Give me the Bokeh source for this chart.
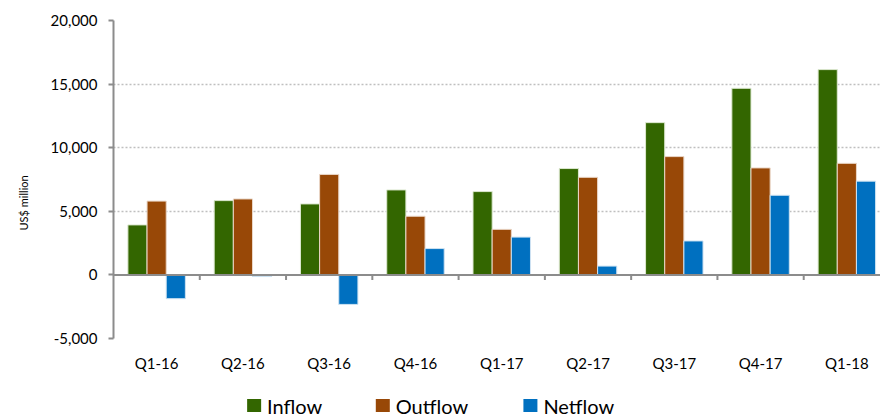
from bokeh.plotting import figure
from bokeh.models import (ColumnDataSource, FixedTicker, NumeralTickFormatter, Span,
                          Range1d, Title)
from bokeh.core.properties import value
from bokeh.layouts import column
from bokeh.embed import file_html
from bokeh.resources import INLINE

categories = ["Q1-16", "Q2-16", "Q3-16", "Q4-16", "Q1-17", "Q2-17", "Q3-17", "Q4-17", "Q1-18"]
inflow = [3930, 5840, 5580, 6680, 6550, 8360, 11970, 14670, 16140]
outflow = [5800, 5970, 7900, 4610, 3580, 7670, 9300, 8410, 8770]
netflow = [-1870, -130, -2320, 2070, 2970, 690, 2670, 6260, 7370]
y_ticks = [-5000, 0, 5000, 10000, 15000, 20000]
y_title = "US$ million"
series = ["Inflow", "Outflow", "Netflow"]

colors = {"Inflow": "#336600", "Outflow": "#984807", "Netflow": "#0070C0"}
FONT = "Lato"

x = list(range(len(categories)))
bw = 0.222
src = ColumnDataSource(dict(
    x=x,
    x_in=[v - bw for v in x],
    x_out=x,
    x_net=[v + bw for v in x],
    inflow=inflow, outflow=outflow, netflow=netflow,
))

p = figure(width=880, height=389, output_backend="svg", toolbar_location=None,
           x_range=Range1d(-0.5, 8.39), y_range=Range1d(-5000, 20000),
           min_border_left=111, min_border_right=0, min_border_top=20,
           min_border_bottom=51)
p.outline_line_color = None
p.background_fill_color = "white"
p.border_fill_color = "white"

p.vbar(x="x_in", top="inflow", bottom=0, width=bw, source=src,
       fill_color=colors["Inflow"], line_color="#DDE8D0", line_width=1)
p.vbar(x="x_out", top="outflow", bottom=0, width=bw, source=src,
       fill_color=colors["Outflow"], line_color="#EAD7C8", line_width=1)
p.vbar(x="x_net", top="netflow", bottom=0, width=bw, source=src,
       fill_color=colors["Netflow"], line_color="#CFE3F2", line_width=1)

# zero line with category boundary ticks
p.add_layout(Span(location=0, dimension="width", line_color="#8C8C8C", line_width=2))
bounds = [i + 0.5 for i in range(len(categories) - 1)]
p.segment(x0=bounds, y0=[0] * len(bounds), x1=bounds, y1=[-400] * len(bounds),
          line_color="#8C8C8C", line_width=2)

# y axis
yax = p.yaxis[0]
yax.ticker = FixedTicker(ticks=y_ticks)
yax.formatter = NumeralTickFormatter(format="0,0")
yax.axis_line_color = "#8C8C8C"
yax.axis_line_width = 2
yax.major_tick_line_color = "#8C8C8C"
yax.major_tick_line_width = 2
yax.major_tick_out = 5
yax.major_tick_in = 0
yax.minor_tick_line_color = None
yax.major_label_standoff = 11
yax.major_label_text_font = FONT
yax.major_label_text_font_size = "15px"
yax.major_label_text_color = "#000000"

# y title in the left panel
p.add_layout(Title(text=y_title, align="left", offset=108, vertical_align="top",
                   standoff=32, text_font=FONT, text_font_size="11px",
                   text_font_style="normal", text_color="#000000"), "left")

# x axis
xax = p.xaxis[0]
xax.ticker = FixedTicker(ticks=x)
xax.major_label_overrides = {i: c for i, c in zip(x, categories)}
xax.axis_line_color = None
xax.major_tick_line_color = None
xax.major_tick_out = 0
xax.major_tick_in = 0
xax.minor_tick_line_color = None
xax.major_label_standoff = 15
xax.major_label_text_font = FONT
xax.major_label_text_font_size = "15px"
xax.major_label_text_color = "#000000"

# grid
p.xgrid.grid_line_color = None
p.ygrid.ticker = FixedTicker(ticks=[-5000, 5000, 10000, 15000, 20000])
p.ygrid.grid_line_color = "#BFBFBF"
p.ygrid.grid_line_dash = "2 2"
p.ygrid.grid_line_width = 1.5

# legend strip (separate small figure beneath the chart; frame aligned with main frame)
legend_x = [245, 374, 522]
lg = figure(width=880, height=28, output_backend="svg", toolbar_location=None,
            x_range=Range1d(111, 880), y_range=Range1d(28, 0),
            min_border_left=111, min_border_right=0, min_border_top=0,
            min_border_bottom=0, x_axis_type=None, y_axis_type=None)
lg.outline_line_color = None
lg.grid.visible = False
lsrc = ColumnDataSource(dict(
    label=series,
    sx=[v + 7 for v in legend_x],
    tx=[v + 20 for v in legend_x],
    y=[16] * len(series),
    color=[colors[s] for s in series],
))
lg.rect(x="sx", y="y", width=14, height=13, width_units="screen", height_units="screen",
        fill_color="color", line_color=None, source=lsrc)
lg.text(x="tx", y="y", text="label", text_baseline="middle", text_align="left",
        text_font=value(FONT), text_font_size=value("20px"), text_color="#000000",
        source=lsrc)

layout = column(p, lg, spacing=0)
open("out.html", "w").write(file_html(layout, INLINE))
